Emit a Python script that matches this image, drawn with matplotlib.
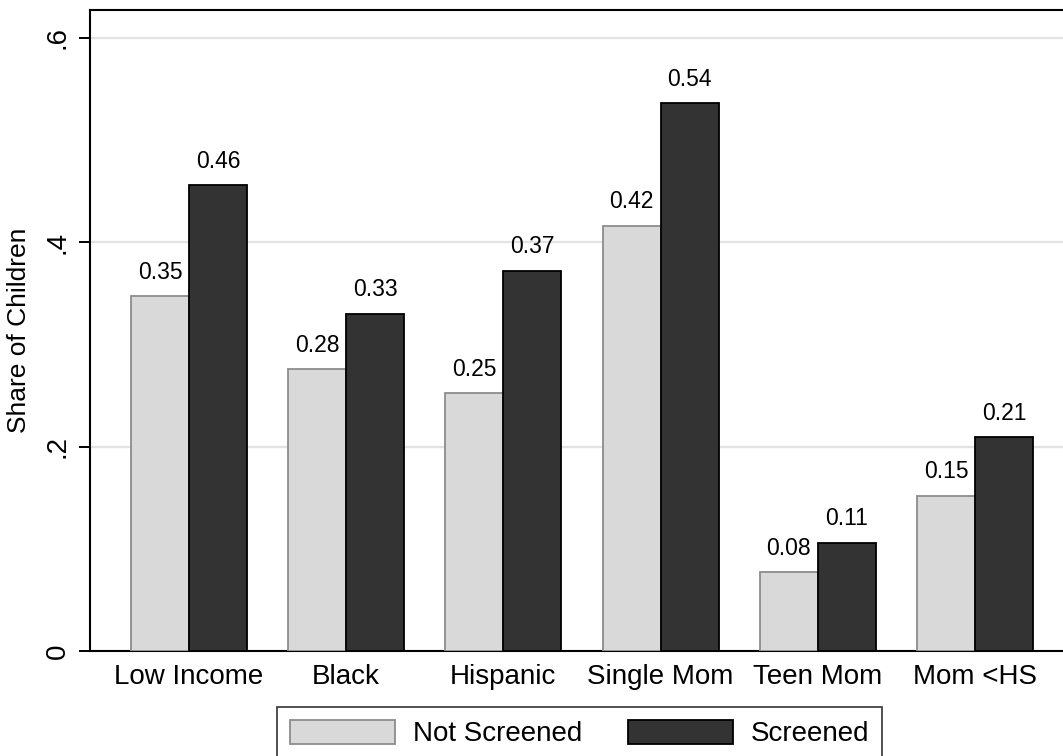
import matplotlib
matplotlib.use("Agg")
import matplotlib.pyplot as plt
from matplotlib.patches import Patch
import numpy as np

plt.rcParams["font.family"] = ["Liberation Sans", "DejaVu Sans"]

categories = ["Low Income", "Black", "Hispanic", "Single Mom", "Teen Mom", "Mom <HS"]
not_screened = [0.347, 0.276, 0.252, 0.416, 0.077, 0.152]
screened = [0.456, 0.330, 0.372, 0.536, 0.106, 0.209]
series_names = ["Not Screened", "Screened"]
y_ticks = [0, 0.2, 0.4, 0.6]
y_tick_labels = ["0", ".2", ".4", ".6"]

light = "#d9d9d9"
dark = "#333333"

fig = plt.figure(figsize=(10.63, 7.56), dpi=100)
ax = fig.add_axes([90 / 1063, 1 - 651 / 756, 1 - 90 / 1063, (651 - 10) / 756])

x = np.arange(len(categories))
w = 0.369
ax.bar(x, not_screened, width=-w, align="edge", color=light, edgecolor="#8c8c8c", linewidth=1.3, zorder=3)
ax.bar(x, screened, width=w, align="edge", color=dark, edgecolor="black", linewidth=1.3, zorder=3)

for xi, v in zip(x, not_screened):
    ax.text(xi - w / 2, v + 0.012, f"{v:.2f}", ha="center", va="bottom", fontsize=16.5)
for xi, v in zip(x, screened):
    ax.text(xi + w / 2, v + 0.012, f"{v:.2f}", ha="center", va="bottom", fontsize=16.5)

ax.set_xlim(-0.63, 5.56)
ax.set_ylim(0, 0.627)
ax.set_yticks(y_ticks)
ax.set_yticklabels(y_tick_labels, rotation=90, va="center", fontsize=20)
ax.set_xticks(x)
ax.set_xticklabels(categories, fontsize=20)
ax.tick_params(axis="x", length=0, pad=9)
ax.tick_params(axis="y", length=8, width=1.4, pad=6)
ax.set_ylabel("Share of Children", fontsize=19, labelpad=10)

ax.grid(axis="y", color="#e2e2e2", linewidth=1.6, zorder=0)
for s in ["left", "top", "bottom"]:
    ax.spines[s].set_linewidth(1.5)
ax.spines["right"].set_visible(False)

handles = [Patch(facecolor=light, edgecolor="#8c8c8c", linewidth=1.3),
           Patch(facecolor=dark, edgecolor="black", linewidth=1.3)]
leg = fig.legend(handles, series_names, loc="upper left", bbox_to_anchor=(277 / 1063, 1 - 707 / 756),
                 ncol=2, fontsize=20, frameon=True, fancybox=False, edgecolor="black",
                 handlelength=3.78, handleheight=1.0, handletextpad=0.65, columnspacing=1.65,
                 borderpad=0.45, borderaxespad=0)
leg.get_frame().set_linewidth(1.2)

fig.savefig("out.png", dpi=100)
